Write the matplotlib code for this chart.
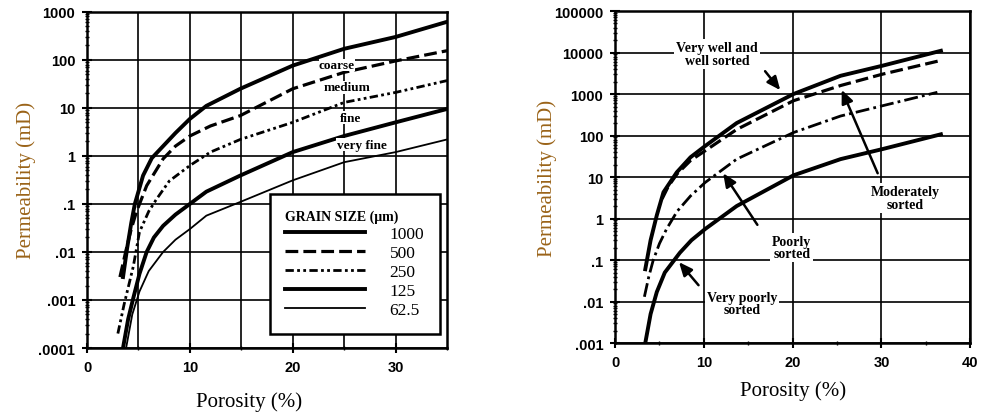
import numpy as np
import matplotlib.pyplot as plt
from matplotlib.ticker import FixedLocator, FixedFormatter, MultipleLocator, LogLocator, NullFormatter

# --- grain size curves (porosity %, permeability mD) ---
por_1000 = [3.5, 3.9, 4.3, 4.65, 5.45, 6.3, 7.4, 8.6, 10, 11.6, 14.9, 20, 25, 30, 35]
k_1000 = [0.003, 0.012, 0.04, 0.1, 0.39, 0.9, 1.6, 3.0, 5.9, 11, 25, 76, 170, 300, 620]

por_500 = [3.2, 3.8, 4.3, 4.8, 5.8, 7.4, 8.6, 10, 12, 14.9, 20, 25, 30, 35]
k_500 = [0.003, 0.011, 0.03, 0.068, 0.24, 0.87, 1.6, 2.6, 4.2, 6.9, 25, 55, 95, 155]

por_250 = [3.0, 3.6, 4.5, 5.1, 6.0, 6.75, 8.0, 10, 12, 14.9, 20, 25, 30, 35]
k_250 = [0.0002, 0.0008, 0.005, 0.026, 0.07, 0.125, 0.3, 0.63, 1.2, 2.2, 5, 13, 21, 37]

por_125 = [3.5, 4.0, 4.5, 5.1, 5.8, 6.5, 7.4, 8.6, 10, 11.6, 14.9, 20, 25, 30, 35]
k_125 = [0.0001, 0.0004, 0.0011, 0.0035, 0.01, 0.02, 0.035, 0.06, 0.1, 0.18, 0.39, 1.2, 2.6, 5, 9.5]

por_62 = [3.8, 4.4, 5.1, 6.0, 7.4, 8.6, 10, 11.6, 14.9, 20, 25, 30, 35]
k_62 = [0.0001, 0.0005, 0.0015, 0.004, 0.01, 0.018, 0.03, 0.057, 0.11, 0.31, 0.74, 1.2, 2.2]

# --- sorting curves ---
por_vw = [3.4, 4.0, 4.7, 5.45, 6.95, 8.5, 10.15, 13.7, 20.1, 25.4, 30.1, 36.7]
k_vw = [0.06, 0.3, 1.2, 4.3, 13, 30, 56, 200, 1000, 2750, 4800, 11000]

por_mod = [5.3, 6.0, 7.0, 8.5, 10.15, 13.7, 20.1, 25.4, 30.1, 36.5]
k_mod = [3.0, 6.0, 12, 25, 43, 140, 690, 1600, 3000, 6300]

por_poor = [3.3, 3.8, 4.3, 5.0, 5.8, 7.0, 8.5, 10.15, 13.7, 20.1, 25.4, 30.1, 36.3]
k_poor = [0.013, 0.04, 0.1, 0.25, 0.56, 1.5, 3.5, 7.4, 27, 118, 295, 520, 1100]

por_vp = [3.4, 4.0, 4.7, 5.6, 7.3, 8.6, 10.15, 13.7, 20.1, 25.4, 30.1, 36.7]
k_vp = [0.001, 0.005, 0.017, 0.05, 0.15, 0.3, 0.56, 2, 11, 27, 47, 107]

left_yticks = [1e-4, 1e-3, 1e-2, 1e-1, 1, 10, 100, 1000]
left_ylabels = [".0001", ".001", ".01", ".1", "1", "10", "100", "1000"]
right_yticks = [1e-3, 1e-2, 1e-1, 1, 10, 100, 1000, 1e4, 1e5]
right_ylabels = [".001", ".01", ".1", "1", "10", "100", "1000", "10000", "100000"]

serif = "Liberation Serif"
sans = "Liberation Sans"
label_color = "#9a6318"

fig = plt.figure(figsize=(9.81, 4.14), dpi=100)
ax1 = fig.add_axes([0.0887, 0.157, 0.367, 0.812])
ax2 = fig.add_axes([0.627, 0.169, 0.362, 0.802])


def style_axes(ax, yticks, ylabels, ypad):
    ax.set_yscale("log")
    ax.yaxis.set_major_locator(FixedLocator(yticks))
    ax.yaxis.set_major_formatter(FixedFormatter(ylabels))
    ax.yaxis.set_minor_locator(LogLocator(base=10, subs=np.arange(2, 10)))
    ax.yaxis.set_minor_formatter(NullFormatter())
    ax.grid(True, which="major", color="black", lw=1.2)
    ax.tick_params(which="major", direction="inout", length=7, width=1.5,
                   labelsize=10.5, pad=5)
    ax.tick_params(which="minor", direction="inout", length=3, width=1)
    for lab in ax.get_xticklabels() + ax.get_yticklabels():
        lab.set_fontfamily(sans)
        lab.set_fontweight("semibold")
    for s in ax.spines.values():
        s.set_linewidth(1.8)
    ax.set_xlabel("Porosity (%)", fontsize=15, family=serif, labelpad=8)
    ax.set_ylabel("Permeability (mD)", fontsize=15, family=serif,
                  color=label_color, labelpad=ypad)


# left panel: grain size
ax1.plot(por_1000, k_1000, color="black", lw=2.8, label="1000")
ax1.plot(por_500, k_500, color="black", lw=2.3, ls=(0, (4, 1.6)), label="500")
ax1.plot(por_250, k_250, color="black", lw=2.0,
         ls=(0, (3, 1.2, 1, 1.2, 1, 1.2)), label="250")
ax1.plot(por_125, k_125, color="black", lw=2.8, label="125")
ax1.plot(por_62, k_62, color="black", lw=1.3, label="62.5")
ax1.set_xlim(0, 35)
ax1.set_ylim(1e-4, 1000)
ax1.xaxis.set_major_locator(FixedLocator([0, 10, 20, 30]))
style_axes(ax1, left_yticks, left_ylabels, ypad=2)
# vertical grid every 5 %
for xv in [5, 15, 25]:
    ax1.axvline(xv, color="black", lw=1.2, zorder=0.5)
ax1.xaxis.set_minor_locator(MultipleLocator(5))
ax1.xaxis.set_label_coords(0.45, -0.13)

for txt, x, y in [("coarse", 24.3, 78), ("medium", 25.3, 27),
                  ("fine", 25.6, 6.3), ("very fine", 26.7, 1.7)]:
    ax1.text(x, y, txt, family=serif, fontweight="bold", fontsize=9.5,
             ha="center", va="center",
             bbox=dict(facecolor="white", edgecolor="none", pad=0.3))

leg = ax1.legend(loc="lower right", bbox_to_anchor=(0.98, 0.042),
                 borderaxespad=0,
                 title="GRAIN SIZE (\u03bcm)", alignment="left",
                 prop={"family": serif, "size": 12.5}, handlelength=4.6,
                 handletextpad=1.4, labelspacing=0.17, borderpad=0.9,
                 fancybox=False, framealpha=1, edgecolor="black")
leg.get_title().set_fontfamily(serif)
leg.get_title().set_fontweight("bold")
leg.get_title().set_fontsize(10)
leg.get_frame().set_linewidth(1.8)

# right panel: sorting
ax2.plot(por_vw, k_vw, color="black", lw=2.8)
ax2.plot(por_mod, k_mod, color="black", lw=2.3, ls=(0, (4, 1.6)))
ax2.plot(por_poor, k_poor, color="black", lw=2.0, ls=(0, (5, 1.5, 1, 1.5)))
ax2.plot(por_vp, k_vp, color="black", lw=2.8)
ax2.set_xlim(0, 40)
ax2.set_ylim(1e-3, 1e5)
ax2.xaxis.set_major_locator(FixedLocator([0, 10, 20, 30, 40]))
ax2.xaxis.set_minor_locator(MultipleLocator(5))
style_axes(ax2, right_yticks, right_ylabels, ypad=-2)

notes = [
    ("Very well and\nwell sorted", (11.5, 9100), (18.8, 1100), (16.7, 4000)),
    ("Moderately\nsorted", (32.7, 3.1), (25.4, 1450), (29.7, 10.7)),
    ("Poorly\nsorted", (19.9, 0.2), (12.0, 14), (16.2, 0.62)),
    ("Very poorly\nsorted", (14.3, 0.009), (7.0, 0.1), (9.6, 0.022)),
]
for txt, tpos, head, tail in notes:
    ax2.text(tpos[0], tpos[1], txt, family=serif, fontweight="bold",
             fontsize=10, ha="center", va="center", linespacing=0.95,
             bbox=dict(facecolor="white", edgecolor="none", pad=1.5))
    ax2.annotate("", xy=head, xytext=tail,
                 arrowprops=dict(arrowstyle="-|>,head_length=0.8,head_width=0.35",
                                 color="black", lw=1.8))

fig.savefig("out.png", dpi=100)
